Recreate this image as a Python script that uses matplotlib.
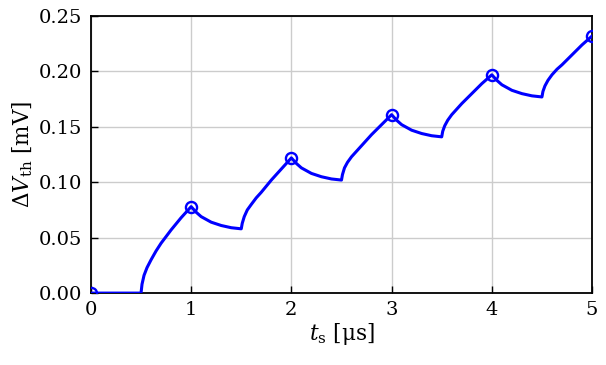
import numpy as np
import matplotlib
matplotlib.use('Agg')
import matplotlib.pyplot as plt

plt.rcParams['font.family'] = ['DejaVu Serif']
plt.rcParams['mathtext.fontset'] = 'dejavuserif'
plt.rcParams['font.size'] = 14

# curve (time in us, threshold shift in mV)
t_s = [0.0, 0.5,
       0.51, 0.53, 0.56, 0.6, 0.65, 0.7, 0.8, 0.9, 1.0,
       1.05, 1.1, 1.2, 1.3, 1.4, 1.5,
       1.51, 1.53, 1.56, 1.6, 1.65, 1.7, 1.8, 1.9, 2.0,
       2.05, 2.1, 2.2, 2.3, 2.4, 2.5,
       2.51, 2.53, 2.56, 2.6, 2.65, 2.7, 2.8, 2.9, 3.0,
       3.05, 3.1, 3.2, 3.3, 3.4, 3.5,
       3.51, 3.53, 3.56, 3.6, 3.65, 3.7, 3.8, 3.9, 4.0,
       4.05, 4.1, 4.2, 4.3, 4.4, 4.5,
       4.51, 4.53, 4.56, 4.6, 4.65, 4.7, 4.8, 4.9, 5.0]
dv_th = [0.0, 0.0,
         0.008, 0.016, 0.023, 0.030, 0.038, 0.045, 0.057, 0.068, 0.078,
         0.073, 0.069, 0.064, 0.061, 0.059, 0.058,
         0.063, 0.069, 0.075, 0.080, 0.086, 0.091, 0.102, 0.112, 0.122,
         0.117, 0.113, 0.108, 0.105, 0.103, 0.102,
         0.107, 0.113, 0.118, 0.123, 0.128, 0.133, 0.143, 0.152, 0.161,
         0.156, 0.152, 0.147, 0.144, 0.142, 0.141,
         0.146, 0.151, 0.156, 0.161, 0.166, 0.171, 0.180, 0.189, 0.197,
         0.192, 0.188, 0.183, 0.180, 0.178, 0.177,
         0.182, 0.187, 0.192, 0.197, 0.202, 0.206, 0.215, 0.224, 0.232]

# sampled points (open circles)
t_mark = [0, 1, 2, 3, 4, 5]
dv_mark = [0.0, 0.078, 0.122, 0.161, 0.197, 0.232]

fig = plt.figure(figsize=(6.06, 3.65), dpi=100)
ax = fig.add_axes([0.150, 0.197, 0.827, 0.759])

ax.plot(t_s, dv_th, color='blue', linewidth=2.2, zorder=3)
ax.plot(t_mark, dv_mark, 'o', color='blue', markerfacecolor='none',
        markersize=8, markeredgewidth=1.7, zorder=4)

ax.set_xlim(0, 5)
ax.set_ylim(0, 0.25)
ax.set_xticks([0, 1, 2, 3, 4, 5])
ax.set_yticks([0, 0.05, 0.10, 0.15, 0.20, 0.25])
ax.set_yticklabels(['0.00', '0.05', '0.10', '0.15', '0.20', '0.25'])
ax.tick_params(direction='in', length=5, width=1, pad=6, top=False, right=False)
ax.grid(True, color='#cccccc', linewidth=1)
ax.set_axisbelow(True)
for sp in ax.spines.values():
    sp.set_linewidth(1.3)

ax.set_xlabel(r'$t_\mathrm{s}$ [μs]', fontsize=15.5, labelpad=1)
ax.set_ylabel(r'$\Delta V_\mathrm{th}$ [mV]', fontsize=15.5, labelpad=3)

fig.savefig('out.png', dpi=100)
